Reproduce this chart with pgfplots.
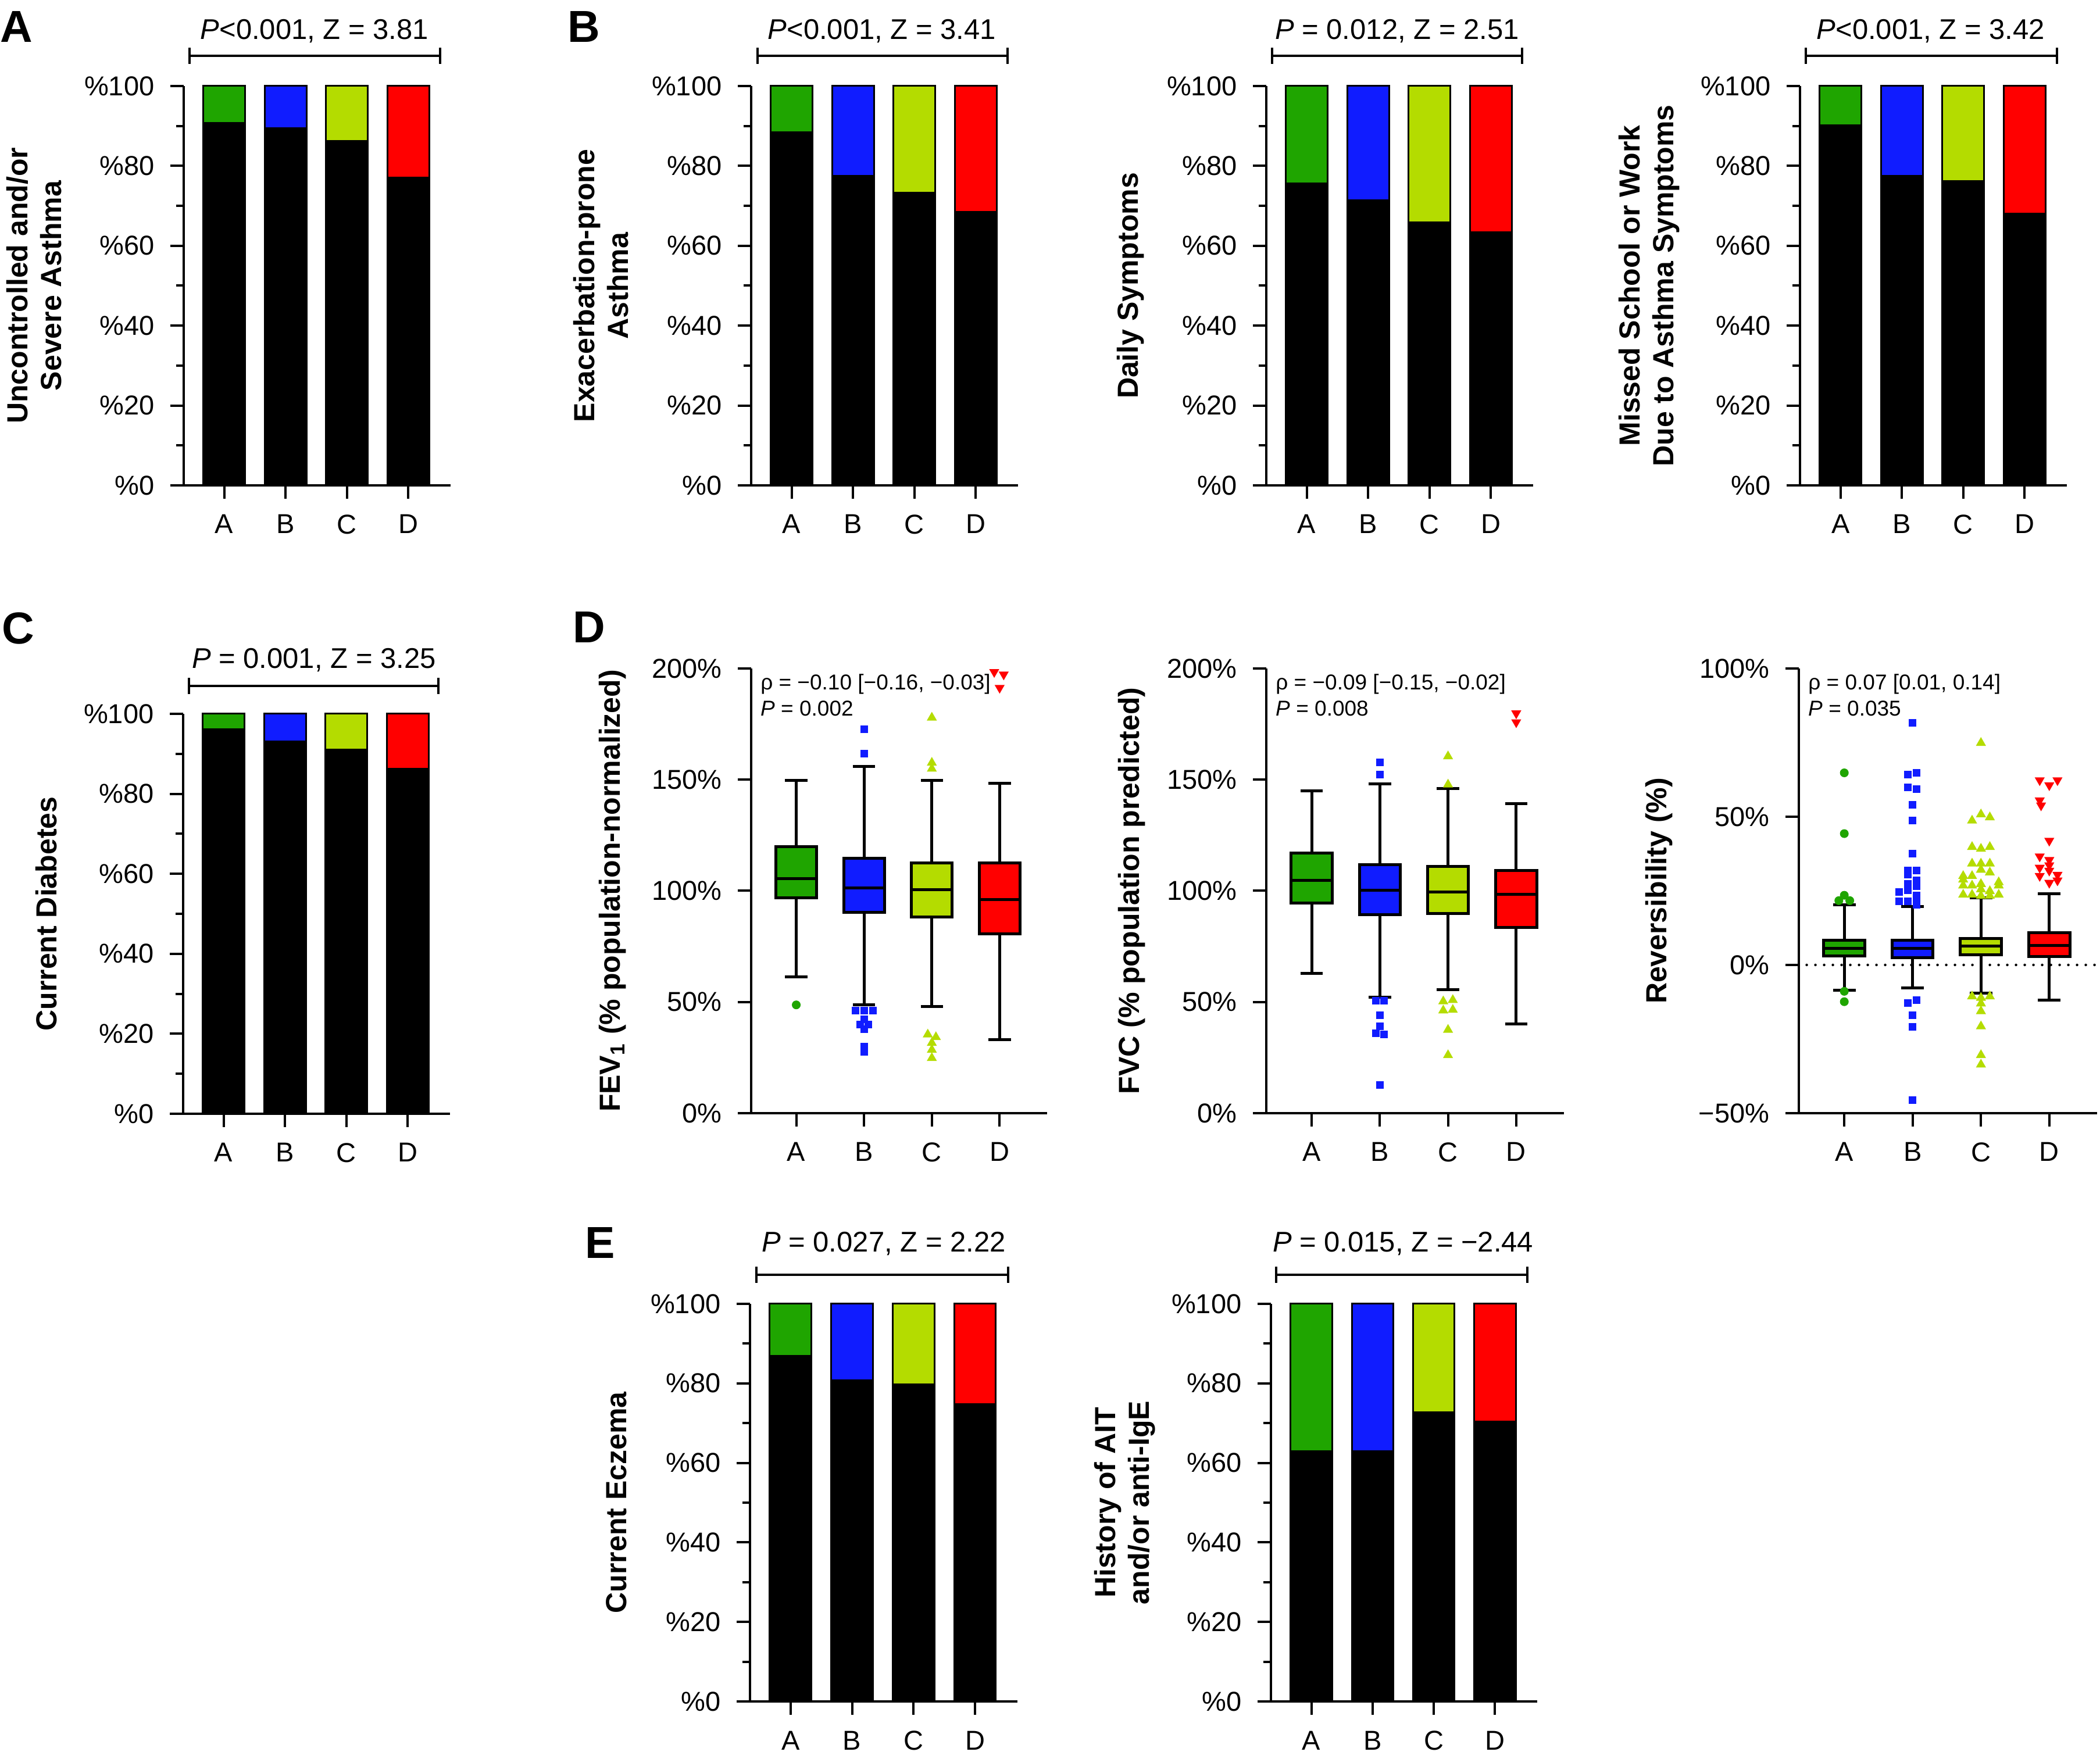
\documentclass[border=0pt]{standalone}
\usepackage{fontspec}
\setmainfont{Liberation Sans}
\usepackage{pgfplots}
\pgfplotsset{compat=1.18}
\usepgfplotslibrary{statistics}

\definecolor{cA}{RGB}{31,165,0}
\definecolor{cB}{RGB}{16,28,255}
\definecolor{cC}{RGB}{180,220,0}
\definecolor{cD}{RGB}{255,0,0}

\newcommand{\bracket}[3]{%
  \draw[line width=0.8pt] (axis description cs:#1,#3) -- (axis description cs:#2,#3);
  \draw[line width=0.8pt] (axis description cs:#1,#3) ++(0pt,2.8pt) -- ++(0pt,-5.6pt);
  \draw[line width=0.8pt] (axis description cs:#2,#3) ++(0pt,2.8pt) -- ++(0pt,-5.6pt);}

\tikzset{
  ann/.style={anchor=base west, font=\fontsize{7.4}{9}\selectfont, inner sep=0pt},
  plet/.style={anchor=base west, font=\bfseries\fontsize{15.4}{16}\selectfont, inner sep=0pt},
}

\pgfplotsset{
  every axis title shift=0pt,
  base/.style={
    scale only axis,
    anchor=south west,
    axis x line*=bottom, axis y line*=left,
    axis line style={line width=0.8pt},
    every tick/.style={line width=0.8pt, black},
    tick align=outside,
    major tick length=4.6pt, minor tick length=2.6pt,
    xtick={0,1,2,3}, xticklabels={A,B,C,D},
    tick label style={font=\fontsize{9.4}{11}\selectfont},
    xticklabel style={yshift=-2pt},
    yticklabel style={xshift=-2pt},
    label style={font=\bfseries\fontsize{10}{11.6}\selectfont, align=center},
    ylabel style={anchor=center},
    title style={font=\fontsize{9.8}{11}\selectfont, anchor=center, yshift=0pt},
    clip=false,
  },
  barpanel/.style={base, width=91.8pt, height=137.4pt,
    xmin=-0.66, xmax=3.69, ymin=0, ymax=100,
    ytick={0,20,40,60,80,100},
    yticklabels={\%0,\%20,\%40,\%60,\%80,\%100},
    minor ytick={10,30,50,70,90},
    ybar, bar width=0.68},
  barseg/.style={draw=black, line width=0.6pt, bar shift=0pt},
  boxpanel/.style={base, height=153pt, xmin=-0.665, xmax=3.70, boxplot/draw direction=y},
  bxs/.style={draw=black, line width=1pt, mark=none},
  oA/.style={only marks, mark=*, mark size=1.3pt, color=cA},
  oB/.style={only marks, mark=square*, mark size=1.1pt, color=cB},
  oC/.style={only marks, mark=triangle*, mark size=1.6pt, color=cC},
  oD/.style={only marks, mark=triangle*, mark size=1.6pt, color=cD, mark options={rotate=180}},
}

\begin{document}
\begin{tikzpicture}
\path[use as bounding box] (0,0) rectangle (722.4pt,605pt);

% Panel letters
\node[plet] at (0pt,590.4pt) {A};
\node[plet] at (195pt,590.4pt) {B};
\node[plet] at (0.6pt,383.4pt) {C};
\node[plet] at (196.8pt,383.8pt) {D};
\node[plet] at (201pt,172pt) {E};

% ---------- A ----------
\begin{axis}[barpanel, at={(63.2pt,438pt)},
  ylabel={Uncontrolled and/or\\Severe Asthma},
  ylabel style={at={(axis description cs:-0.56,0.5)}},
  title={\textit{P}<0.001, Z = 3.81},
  title style={at={(axis description cs:0.49,1.137)}}]
\addplot[barseg, fill=cA] coordinates {(0,100)};
\addplot[barseg, fill=cB] coordinates {(1,100)};
\addplot[barseg, fill=cC] coordinates {(2,100)};
\addplot[barseg, fill=cD] coordinates {(3,100)};
\addplot[barseg, fill=black] coordinates {(0,90.7) (1,89.4) (2,86.3) (3,77.1)};
\bracket{0.022}{0.961}{1.076}
\end{axis}

% ---------- B1 ----------
\begin{axis}[barpanel, at={(258.4pt,438pt)},
  ylabel={Exacerbation-prone\\Asthma},
  ylabel style={at={(axis description cs:-0.564,0.5)}},
  title={\textit{P}<0.001, Z = 3.41},
  title style={at={(axis description cs:0.49,1.137)}}]
\addplot[barseg, fill=cA] coordinates {(0,100)};
\addplot[barseg, fill=cB] coordinates {(1,100)};
\addplot[barseg, fill=cC] coordinates {(2,100)};
\addplot[barseg, fill=cD] coordinates {(3,100)};
\addplot[barseg, fill=black] coordinates {(0,88.4) (1,77.5) (2,73.3) (3,68.5)};
\bracket{0.024}{0.961}{1.076}
\end{axis}

% ---------- B2 ----------
\begin{axis}[barpanel, at={(435.6pt,438pt)},
  ylabel={Daily Symptoms},
  ylabel style={at={(axis description cs:-0.508,0.5)}},
  title={\textit{P} = 0.012, Z = 2.51},
  title style={at={(axis description cs:0.49,1.137)}}]
\addplot[barseg, fill=cA] coordinates {(0,100)};
\addplot[barseg, fill=cB] coordinates {(1,100)};
\addplot[barseg, fill=cC] coordinates {(2,100)};
\addplot[barseg, fill=cD] coordinates {(3,100)};
\addplot[barseg, fill=black] coordinates {(0,75.6) (1,71.4) (2,65.8) (3,63.4)};
\bracket{0.022}{0.959}{1.076}
\end{axis}

% ---------- B3 ----------
\begin{axis}[barpanel, at={(619.2pt,438pt)},
  ylabel={Missed School or Work\\Due to Asthma Symptoms},
  ylabel style={at={(axis description cs:-0.566,0.5)}},
  title={\textit{P}<0.001, Z = 3.42},
  title style={at={(axis description cs:0.49,1.137)}}]
\addplot[barseg, fill=cA] coordinates {(0,100)};
\addplot[barseg, fill=cB] coordinates {(1,100)};
\addplot[barseg, fill=cC] coordinates {(2,100)};
\addplot[barseg, fill=cD] coordinates {(3,100)};
\addplot[barseg, fill=black] coordinates {(0,90.1) (1,77.5) (2,76.2) (3,68.0)};
\bracket{0.022}{0.962}{1.076}
\end{axis}

% ---------- C ----------
\begin{axis}[barpanel, at={(63pt,221.8pt)}, height=137.6pt,
  ylabel={Current Diabetes},
  ylabel style={at={(axis description cs:-0.512,0.5)}},
  title={\textit{P} = 0.001, Z = 3.25},
  title style={at={(axis description cs:0.49,1.135)}}]
\addplot[barseg, fill=cA] coordinates {(0,100)};
\addplot[barseg, fill=cB] coordinates {(1,100)};
\addplot[barseg, fill=cC] coordinates {(2,100)};
\addplot[barseg, fill=cD] coordinates {(3,100)};
\addplot[barseg, fill=black] coordinates {(0,96.1) (1,93.1) (2,91.0) (3,86.2)};
\bracket{0.022}{0.956}{1.070}
\end{axis}

% ---------- D1 FEV1 ----------
\begin{axis}[boxpanel, at={(258.4pt,222pt)}, width=101.8pt,
  ymin=0, ymax=200, ytick={0,50,100,150,200},
  yticklabels={0\%,50\%,100\%,150\%,200\%},
  ylabel={FEV\textsubscript{1} (\% population-normalized)},
  ylabel style={at={(axis description cs:-0.468,0.5)}}]
\addplot[oA] coordinates {(0,48.7)};
\addplot[oB] coordinates {(1,172.6) (1,161.6) (0.87,46.1) (1,46.2) (1.13,46.1)
  (1,42.2) (0.94,39.8) (1.06,39.8) (1,37.9) (1,30.0) (1,27.7)};
\addplot[oC] coordinates {(2,177.9) (2,157.6) (2,154.9) (1.94,35.4) (2.06,34.2)
  (2,31.6) (2,28.5) (2,24.8)};
\addplot[oD] coordinates {(2.92,198.4) (3.06,197.3) (3,191.3)};
\addplot[bxs, fill=cA, boxplot prepared={draw position=0, lower whisker=61.2, lower quartile=96.8, median=105.6, upper quartile=119.8, upper whisker=149.7, box extend=0.6, whisker extend=0.33}] coordinates {};
\addplot[bxs, fill=cB, boxplot prepared={draw position=1, lower whisker=48.7, lower quartile=90.4, median=101.2, upper quartile=114.6, upper whisker=155.9, box extend=0.6, whisker extend=0.33}] coordinates {};
\addplot[bxs, fill=cC, boxplot prepared={draw position=2, lower whisker=47.9, lower quartile=88.2, median=100.4, upper quartile=112.6, upper whisker=149.7, box extend=0.6, whisker extend=0.33}] coordinates {};
\addplot[bxs, fill=cD, boxplot prepared={draw position=3, lower whisker=33.0, lower quartile=80.6, median=96.0, upper quartile=112.6, upper whisker=148.3, box extend=0.6, whisker extend=0.33}] coordinates {};
\node[ann] at (axis description cs:0.03,0.952) {ρ = −0.10 [−0.16, −0.03]};
\node[ann] at (axis description cs:0.03,0.893) {\textit{P} = 0.002};
\end{axis}

% ---------- D2 FVC ----------
\begin{axis}[boxpanel, at={(435.6pt,222pt)}, width=102.4pt,
  ymin=0, ymax=200, ytick={0,50,100,150,200},
  yticklabels={0\%,50\%,100\%,150\%,200\%},
  ylabel={FVC (\% population predicted)},
  ylabel style={at={(axis description cs:-0.453,0.5)}}]
\addplot[oB] coordinates {(1,157.8) (1,152.3) (0.94,50.6) (1.06,50.6) (1,44.0)
  (1,39.2) (0.94,35.9) (1.06,35.4) (1,12.6)};
\addplot[oC] coordinates {(2,160.5) (2,147.8) (1.93,50.3) (2.07,50.9) (1.93,46.2)
  (2.07,46.5) (2,37.5) (2,26.1)};
\addplot[oD] coordinates {(3,179.8) (3,175.8)};
\addplot[bxs, fill=cA, boxplot prepared={draw position=0, lower whisker=62.8, lower quartile=94.4, median=104.8, upper quartile=117.0, upper whisker=145.0, box extend=0.6, whisker extend=0.33}] coordinates {};
\addplot[bxs, fill=cB, boxplot prepared={draw position=1, lower whisker=52.2, lower quartile=89.3, median=100.2, upper quartile=111.8, upper whisker=148.1, box extend=0.6, whisker extend=0.33}] coordinates {};
\addplot[bxs, fill=cC, boxplot prepared={draw position=2, lower whisker=55.5, lower quartile=89.8, median=99.4, upper quartile=111.0, upper whisker=146.1, box extend=0.6, whisker extend=0.33}] coordinates {};
\addplot[bxs, fill=cD, boxplot prepared={draw position=3, lower whisker=40.2, lower quartile=83.5, median=98.3, upper quartile=109.1, upper whisker=139.1, box extend=0.6, whisker extend=0.33}] coordinates {};
\node[ann] at (axis description cs:0.03,0.952) {ρ = −0.09 [−0.15, −0.02]};
\node[ann] at (axis description cs:0.03,0.893) {\textit{P} = 0.008};
\end{axis}

% ---------- D3 Reversibility ----------
\begin{axis}[boxpanel, at={(618.8pt,222pt)}, width=102.6pt,
  ymin=-50, ymax=100, ytick={-50,0,50,100},
  yticklabels={−50\%,0\%,50\%,100\%},
  ylabel={Reversibility (\%)},
  ylabel style={at={(axis description cs:-0.468,0.5)}}]
\addplot[line width=0.9pt, dash pattern=on 0pt off 3pt, line cap=round] coordinates {(-0.55,0) (3.70,0)};
\addplot[oA] coordinates {(0,64.8) (0,44.3) (0,23.5) (-0.08,21.7) (0.08,21.7) (0,-8.9) (0,-12.4)};
\addplot[oB] coordinates {(1,81.6) (1.06,64.8) (0.93,64.2) (0.93,59.9) (1.06,59.4)
  (1,54.0) (1,48.8) (1,37.5) (0.93,31.8) (1.06,31.8) (0.93,30.4) (1.06,28.5)
  (0.93,27.3) (1.06,26.5) (0.80,24.7) (0.93,25.1) (1.06,23.5) (0.80,21.4)
  (0.93,21.4) (1.06,21.4) (1.06,20.2)
  (1.06,-11.8) (0.93,-12.8) (1,-17.0) (1,-20.8) (1,-45.6)};
\addplot[oC] coordinates {(2,74.9) (2,50.8) (2.13,49.8) (1.87,48.7) (1.87,39.8)
  (2.13,39.8) (2,39.2) (1.87,34.2) (2,34.2) (2.13,34.2) (2,32.1) (2.13,31.2)
  (1.74,30.0) (1.87,30.0) (1.74,28.8) (2.26,27.9) (2,27.3) (1.74,26.8)
  (1.87,26.8) (2.26,26.8) (2,25.5) (2.13,24.9) (1.74,23.7) (1.87,23.7)
  (2.26,23.7) (2,23.3) (2.13,23.3)
  (1.87,-10.6) (2.13,-10.6) (2,-11.1) (2,-13.0) (2,-15.6) (2,-20.7) (2,-30.4) (2,-33.6)};
\addplot[oD] coordinates {(2.86,62.3) (3.12,62.3) (3,60.6) (2.86,55.5) (2.88,53.8)
  (3,41.9) (2.86,36.6) (3,35.4) (3,33.6) (2.86,32.8) (3,31.8) (3.12,30.4)
  (2.86,30.0) (3.12,28.5) (3,27.7)};
\addplot[bxs, fill=cA, boxplot prepared={draw position=0, lower whisker=-8.5, lower quartile=3.1, median=5.5, upper quartile=8.3, upper whisker=20.2, box extend=0.6, whisker extend=0.33}] coordinates {};
\addplot[bxs, fill=cB, boxplot prepared={draw position=1, lower whisker=-7.7, lower quartile=2.5, median=5.5, upper quartile=8.3, upper whisker=19.7, box extend=0.6, whisker extend=0.33}] coordinates {};
\addplot[bxs, fill=cC, boxplot prepared={draw position=2, lower whisker=-9.5, lower quartile=3.4, median=6.3, upper quartile=9.0, upper whisker=22.6, box extend=0.6, whisker extend=0.33}] coordinates {};
\addplot[bxs, fill=cD, boxplot prepared={draw position=3, lower whisker=-11.8, lower quartile=2.8, median=6.6, upper quartile=10.8, upper whisker=24.1, box extend=0.6, whisker extend=0.33}] coordinates {};
\node[ann] at (axis description cs:0.03,0.952) {ρ = 0.07 [0.01, 0.14]};
\node[ann] at (axis description cs:0.03,0.893) {\textit{P} = 0.035};
\end{axis}

% ---------- E1 ----------
\begin{axis}[barpanel, at={(258pt,19.6pt)}, width=92pt, height=136.8pt,
  ylabel={Current Eczema},
  ylabel style={at={(axis description cs:-0.5,0.5)}},
  title={\textit{P} = 0.027, Z = 2.22},
  title style={at={(axis description cs:0.5,1.151)}}]
\addplot[barseg, fill=cA] coordinates {(0,100)};
\addplot[barseg, fill=cB] coordinates {(1,100)};
\addplot[barseg, fill=cC] coordinates {(2,100)};
\addplot[barseg, fill=cD] coordinates {(3,100)};
\addplot[barseg, fill=black] coordinates {(0,86.9) (1,80.8) (2,79.8) (3,74.8)};
\bracket{0.024}{0.965}{1.073}
\end{axis}

% ---------- E2 ----------
\begin{axis}[barpanel, at={(437.2pt,19.6pt)}, width=91.6pt, height=136.8pt,
  ylabel={History of AIT\\and/or anti-IgE},
  ylabel style={at={(axis description cs:-0.548,0.5)}},
  title={\textit{P} = 0.015, Z = −2.44},
  title style={at={(axis description cs:0.496,1.151)}}]
\addplot[barseg, fill=cA] coordinates {(0,100)};
\addplot[barseg, fill=cB] coordinates {(1,100)};
\addplot[barseg, fill=cC] coordinates {(2,100)};
\addplot[barseg, fill=cD] coordinates {(3,100)};
\addplot[barseg, fill=black] coordinates {(0,63.0) (1,63.0) (2,72.8) (3,70.4)};
\bracket{0.02}{0.963}{1.073}
\end{axis}
\end{tikzpicture}
\end{document}
